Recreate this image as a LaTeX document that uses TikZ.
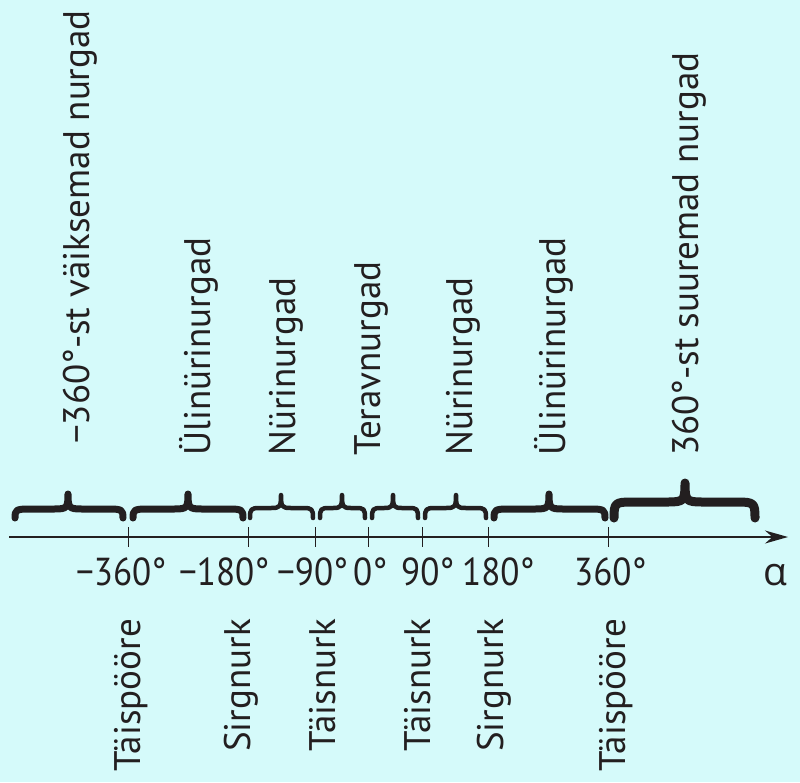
\documentclass[tikz,border=0pt]{standalone}
\usepackage{fontspec}
\setmainfont{PT Sans}
\newfontfamily\numfont[FakeStretch=0.9]{PT Sans}
\newfontfamily\greekfont{Open Sans}
\usetikzlibrary{arrows.meta}

\definecolor{paper}{RGB}{213,250,250}
\definecolor{ink}{RGB}{35,31,32}

\tikzset{
  toplabel/.style = {rotate=90, anchor=base west, inner sep=0pt, font=\fontsize{37}{44}\selectfont},
  botlabel/.style = {rotate=90, anchor=base east, inner sep=0pt, font=\fontsize{37}{44}\selectfont},
  ticklabel/.style = {anchor=base west, inner sep=0pt, font=\numfont\fontsize{39}{46}\selectfont},
  tickmark/.style = {line width=1pt},
  axis/.style = {line width=1.5pt, -{Stealth[length=23pt,width=13pt]}},
  curly/.style = {line width=#1pt, line cap=round, line join=round}
}

\begin{document}
\begin{tikzpicture}[x=1pt, y=-1pt, color=ink]
\fill[paper] (0,0) rectangle (800,782);
\useasboundingbox (0,0) rectangle (800,782);
% the axis
\coordinate (A0) at (9,537);
\coordinate (A1) at (788,537);
\draw[axis] (A0) -- (A1);
\node[ticklabel] (alpha) at (763,585) {\greekfont α};
% ticks and their values
\foreach \n/\x/\lx/\val in {m360/128/76/{−360°}, m180/248/179/{−180°}, m90/315/277/{−90°},
                            z/368/353/{0°}, p90/422/401/{90°}, p180/488/462/{180°}, p360/608/574/{360°}}{
  \coordinate (tu\n) at (\x,527);
  \coordinate (td\n) at (\x,547);
  \draw[tickmark] (tu\n) -- (td\n);
  \node[ticklabel] (v\n) at (\lx,585) {\val};
}
% braces: left end / right end / tip / bar height / tip height / curl / width
\foreach \a/\b/\m/\h/\t/\r/\w in {15/123/68/509/494/14/7, 133/243/188/509/494/14/7,
                                  250/313/281/508/495/10/4.5, 320/365/342/508/495/9/4.5,
                                  372/418/393/508/495/9/4.5, 425/486/456/508/495/10/4.5,
                                  494/605/549/509/494/14/7, 614/755/685/502/483/18/9}{
  \draw[curly=\w] (\a,518) .. controls (\a,\h+1) and (\a+1,\h) .. (\a+\r,\h) -- (\m-\r,\h)
    .. controls (\m-1,\h) and (\m,\h-1) .. (\m,\t)
    .. controls (\m,\h-1) and (\m+1,\h) .. (\m+\r,\h) -- (\b-\r,\h)
    .. controls (\b-1,\h) and (\b,\h+1) .. (\b,518);
}
% names of the intervals
\node[toplabel] (small)  at (89,444)  {−360°-st väiksemad nurgad};
\node[toplabel] (reflL)  at (210,456) {Ülinürinurgad};
\node[toplabel] (obtL)   at (295,456) {Nürinurgad};
\node[toplabel] (acute)  at (380,456) {Teravnurgad};
\node[toplabel] (obtR)   at (472,456) {Nürinurgad};
\node[toplabel] (reflR)  at (565,456) {Ülinürinurgad};
\node[toplabel] (big)    at (698,456) {360°-st suuremad nurgad};
% names of the special angles
\node[botlabel] (fullL)  at (140,619) {Täispööre};
\node[botlabel] (strL)   at (250,619) {Sirgnurk};
\node[botlabel] (rightL) at (335,619) {Täisnurk};
\node[botlabel] (rightR) at (430,619) {Täisnurk};
\node[botlabel] (strR)   at (503,619) {Sirgnurk};
\node[botlabel] (fullR)  at (625,619) {Täispööre};
\end{tikzpicture}
\end{document}
